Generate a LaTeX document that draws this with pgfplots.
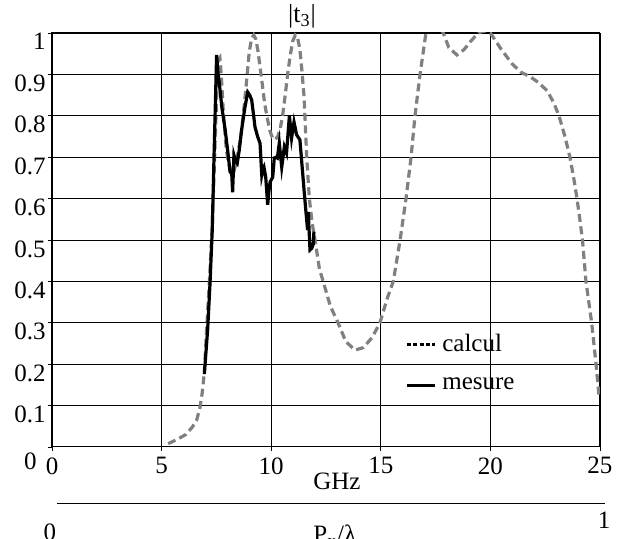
\documentclass[border=0pt]{standalone}
\usepackage{fontspec}
\setmainfont{Liberation Serif}
\usepackage{pgfplots}
\pgfplotsset{compat=1.18}
\definecolor{calc}{RGB}{128,128,128}
\begin{document}
\fontsize{12.5}{15}\selectfont
\begin{tikzpicture}
\useasboundingbox (-26pt,-46pt) rectangle (282.5pt,223.5pt);
\begin{axis}[
  at={(0pt,0pt)}, anchor=south west,
  scale only axis, width=274pt, height=207pt,
  xmin=0, xmax=25, ymin=0, ymax=1,
  xtick={0,5,10,15,20,25},
  ytick={0.1,0.2,0.3,0.4,0.5,0.6,0.7,0.8,0.9,1},
  extra y ticks={0},
  extra y tick style={grid=none, yticklabel style={xshift=-4.5pt, yshift=-2.5pt}},
  /pgf/number format/assume math mode=true,
  xtick pos=left, ytick pos=left,
  tick align=outside, major tick length=2pt,
  tick style={black, line width=0.4pt},
  grid=major,
  major grid style={black, line width=0.4pt},
  axis line style={black, line width=0.5pt},
  xticklabel style={anchor=north, inner sep=0pt, yshift=-3pt},
  yticklabel style={anchor=north east, inner sep=0pt, xshift=-1pt},
  xlabel={GHz},
  xlabel style={at={(axis description cs:0.52,0)}, anchor=north, inner sep=0pt, yshift=-13pt},
  legend style={draw=none, fill=none, at={(axis description cs:0.644,0.283)}, anchor=north west, inner sep=0pt,
    nodes={inner xsep=3pt, inner ysep=2pt}, row sep=7pt},
  legend cell align=left,
  legend image code/.code={\draw[#1] (0pt,0pt) -- (14pt,0pt);},
]
\addlegendimage{black, line width=1.5pt, dash pattern=on 2pt off 1.2pt}
\addlegendentry{calcul}
\addlegendimage{black, line width=1.5pt}
\addlegendentry{mesure}

\addplot[calc, line width=1.6pt, dash pattern=on 4pt off 2.2pt, forget plot] coordinates {
(5.3,0.008) (5.7,0.018) (6.1,0.03) (6.4,0.048) (6.6,0.065) (6.75,0.095) (6.85,0.13) (6.95,0.18)
(7.05,0.28) (7.18,0.40) (7.3,0.52) (7.42,0.70) (7.52,0.86) (7.6,0.935) (7.66,0.94) (7.72,0.90)
(7.82,0.806) (7.95,0.72) (8.05,0.686) (8.2,0.66) (8.3,0.665) (8.42,0.69) (8.55,0.73) (8.65,0.766)
(8.78,0.83) (8.88,0.886) (9.0,0.955) (9.1,0.985) (9.2,0.995) (9.3,0.985) (9.4,0.955) (9.57,0.886)
(9.7,0.83) (9.8,0.80) (9.95,0.762) (10.05,0.748) (10.17,0.742) (10.3,0.75) (10.4,0.766) (10.52,0.80)
(10.63,0.846) (10.75,0.90) (10.86,0.943) (10.98,0.98) (11.1,0.995) (11.2,0.99) (11.31,0.96)
(11.4,0.91) (11.5,0.846) (11.62,0.70) (11.74,0.60) (11.87,0.54) (12.0,0.50) (12.2,0.43) (12.37,0.40)
(12.7,0.34) (13.05,0.30) (13.4,0.255) (13.82,0.234) (14.2,0.24) (14.6,0.264) (14.96,0.30)
(15.3,0.36) (15.57,0.40) (15.88,0.50) (16.15,0.60) (16.38,0.70) (16.56,0.80) (16.79,0.90)
(17.06,1.0) (17.4,1.05) (17.85,1.0) (18.1,0.965) (18.47,0.947) (18.8,0.96) (19.1,0.98)
(19.45,1.0) (19.7,1.005) (20.0,1.0) (20.5,0.96) (21.0,0.925) (21.4,0.905) (21.8,0.895)
(22.2,0.88) (22.6,0.86) (22.9,0.83) (23.13,0.80) (23.4,0.75) (23.63,0.70) (23.8,0.65)
(23.95,0.60) (24.08,0.55) (24.2,0.50) (24.36,0.40) (24.62,0.30) (24.82,0.20) (24.95,0.126)
};
\addplot[black, line width=1.6pt, forget plot] coordinates {
(6.95,0.176) (7.1,0.283) (7.21,0.396) (7.31,0.524) (7.4,0.72) (7.51,0.947) (7.58,0.90) (7.63,0.88)
(7.75,0.82) (7.9,0.766) (8.05,0.70) (8.12,0.665) (8.2,0.66) (8.24,0.615) (8.3,0.705) (8.38,0.69)
(8.45,0.685) (8.55,0.72) (8.65,0.766) (8.8,0.82) (8.93,0.857) (9.02,0.85) (9.11,0.838) (9.2,0.80)
(9.26,0.773) (9.38,0.75) (9.49,0.734) (9.57,0.657) (9.62,0.67) (9.67,0.676) (9.75,0.652)
(9.84,0.585) (9.9,0.62) (9.95,0.64) (10.07,0.652) (10.14,0.698) (10.22,0.70) (10.28,0.698)
(10.37,0.734) (10.48,0.676) (10.6,0.725) (10.7,0.71) (10.83,0.80) (10.93,0.746) (11.04,0.785)
(11.16,0.754) (11.31,0.742) (11.5,0.62) (11.59,0.565) (11.66,0.524) (11.69,0.568) (11.77,0.476)
(11.85,0.48) (11.92,0.49) (11.95,0.52)
};
\end{axis}
\node[anchor=base, inner sep=0pt, font=\fontsize{13}{15}\selectfont] at (125pt,212pt) {|t\textsubscript{3}|};
\draw[black, line width=0.5pt] (2.5pt,-28.5pt) -- (276.5pt,-28.5pt);
\node[anchor=north, inner sep=0pt] at (-1pt,-38pt) {0};
\node[anchor=north, inner sep=0pt] at (276pt,-32.5pt) {1};
\node[anchor=north west, inner sep=0pt] at (130.5pt,-39pt) {P\textsubscript{x}/λ};
\end{tikzpicture}
\end{document}
